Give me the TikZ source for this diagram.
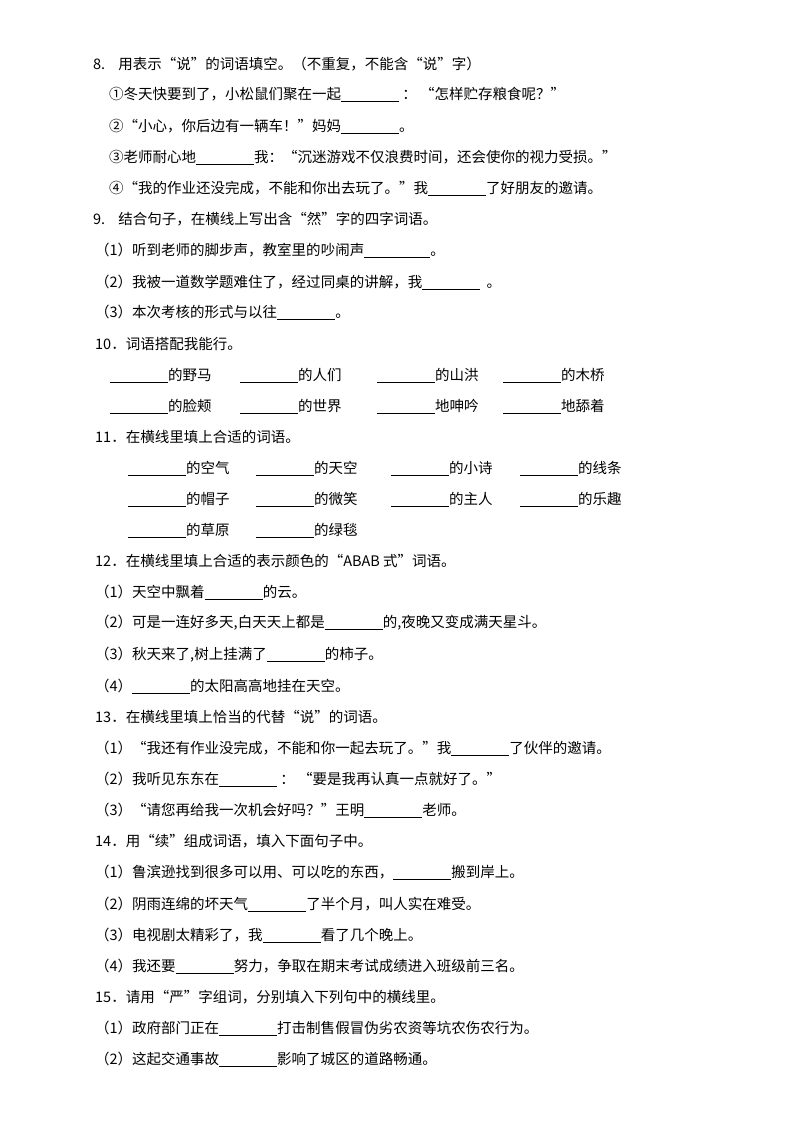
\documentclass[tikz,border=0pt]{standalone}
\usepackage{fontspec}
\setmainfont{Noto Sans CJK SC}
\newcommand\bl[1][58pt]{\rule[-2pt]{#1}{0.5pt}}
\begin{document}
\begin{tikzpicture}[x=1pt,y=-1pt,every node/.style={anchor=west,inner sep=0pt,font=\fontsize{14.5pt}{16pt}\selectfont}]
\useasboundingbox (0,0) rectangle (794,1123);
\node (q8) at (93,64) {8.\ \ \ \ 用表示“说”的词语填空。（不重复，不能含“说”字）};
\node (a1) at (109,94) {①冬天快要到了，小松鼠们聚在一起\bl\ ：\ “怎样贮存粮食呢？”};
\node (a2) at (109,126) {②“小心，你后边有一辆车！”妈妈\bl。};
\node (a3) at (109,157) {③老师耐心地\bl 我：“沉迷游戏不仅浪费时间，还会使你的视力受损。”};
\node (a4) at (109,188) {④“我的作业还没完成，不能和你出去玩了。”我\bl 了好朋友的邀请。};
\node (q9) at (93,219) {9.\ \ \ \ 结合句子，在横线上写出含“然”字的四字词语。};
\node (b1) at (95,250) {（1）听到老师的脚步声，教室里的吵闹声\bl[66pt]。};
\node (b2) at (95,282) {（2）我被一道数学题难住了，经过同桌的讲解，我\bl\ \ 。};
\node (b3) at (95,312) {（3）本次考核的形式与以往\bl。};
\node (q10) at (95,344) {10．词语搭配我能行。};
\foreach \x/\t in {110/的野马,240/的人们,377/的山洪,503/的木桥}{\node at (\x,375) {\bl[58pt]\t};}
\foreach \x/\t in {110/的脸颊,240/的世界,377/地呻吟,503/地舔着}{\node at (\x,406) {\bl[58pt]\t};}
\node (q11) at (95,437) {11．在横线里填上合适的词语。};
\foreach \x/\t in {128/的空气,256/的天空,391/的小诗,520/的线条}{\node at (\x,468) {\bl[58pt]\t};}
\foreach \x/\t in {128/的帽子,256/的微笑,391/的主人,520/的乐趣}{\node at (\x,499) {\bl[58pt]\t};}
\foreach \x/\t in {128/的草原,256/的绿毯}{\node at (\x,530) {\bl[58pt]\t};}
\node (q12) at (95,561) {12．在横线里填上合适的表示颜色的“ABAB 式”词语。};
\node (c1) at (95,592) {（1）天空中飘着\bl 的云。};
\node (c2) at (95,623) {（2）可是一连好多天,白天天上都是\bl 的,夜晚又变成满天星斗。};
\node (c3) at (95,655) {（3）秋天来了,树上挂满了\bl 的柿子。};
\node (c4) at (95,686) {（4）\bl 的太阳高高地挂在天空。};
\node (q13) at (95,717) {13．在横线里填上恰当的代替“说”的词语。};
\node (d1) at (95,748) {（1）“我还有作业没完成，不能和你一起去玩了。”我\bl 了伙伴的邀请。};
\node (d2) at (95,779) {（2）我听见东东在\bl\ ：\ “要是我再认真一点就好了。”};
\node (d3) at (95,810) {（3）“请您再给我一次机会好吗？”王明\bl 老师。};
\node (q14) at (95,841) {14．用“续”组成词语，填入下面句子中。};
\node (e1) at (95,872) {（1）鲁滨逊找到很多可以用、可以吃的东西，\bl 搬到岸上。};
\node (e2) at (95,904) {（2）阴雨连绵的坏天气\bl 了半个月，叫人实在难受。};
\node (e3) at (95,935) {（3）电视剧太精彩了，我\bl 看了几个晚上。};
\node (e4) at (95,966) {（4）我还要\bl 努力，争取在期末考试成绩进入班级前三名。};
\node (q15) at (95,997) {15．请用“严”字组词，分别填入下列句中的横线里。};
\node (f1) at (95,1028) {（1）政府部门正在\bl 打击制售假冒伪劣农资等坑农伤农行为。};
\node (f2) at (95,1059) {（2）这起交通事故\bl 影响了城区的道路畅通。};
\end{tikzpicture}
\end{document}
